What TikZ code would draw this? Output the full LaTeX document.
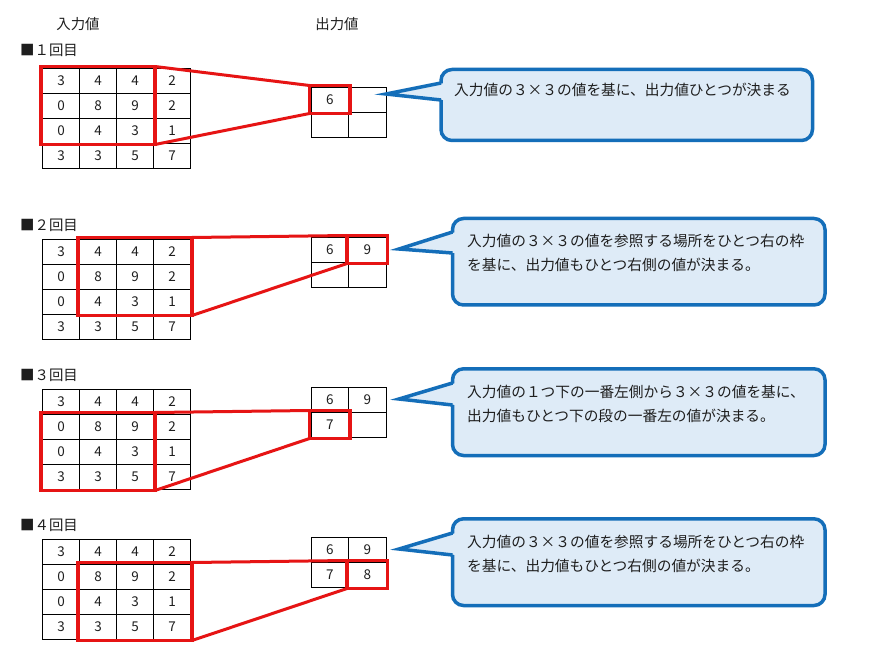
\documentclass[tikz,border=0pt]{standalone}
\usepackage{fontspec}
\setmainfont{Noto Sans CJK JP}
\usetikzlibrary{fit}
\definecolor{cbline}{RGB}{20,110,185}
\definecolor{cbfill}{RGB}{222,235,247}
\definecolor{hired}{RGB}{230,20,20}
\definecolor{ink}{RGB}{30,30,30}
\newcommand\ingrid[2]{%
  \foreach \vals [count=\r] in {{3,4,4,2},{0,8,9,2},{0,4,3,1},{3,3,5,7}}{%
    \foreach \v [count=\c] in \vals {%
      \node[cell] (#1-\r-\c) at ({61+37*(\c-1)},{#2+12.5+25*(\r-1)}) {\v};
    }%
  }%
}
\newcommand\outgrid[6]{%
  \node[ocell] (#1-1-1) at (329.75,{#2+12.5}) {#3};
  \node[ocell] (#1-1-2) at (367.25,{#2+12.5}) {#4};
  \node[ocell] (#1-2-1) at (329.75,{#2+37.5}) {#5};
  \node[ocell] (#1-2-2) at (367.25,{#2+37.5}) {#6};
}
\begin{document}
\begin{tikzpicture}[x=1pt,y=-1pt,
  cell/.style={draw=black,line width=0.9pt,minimum width=37pt,minimum height=25pt,
    inner sep=0pt,outer sep=0pt,text=ink,font=\fontsize{13.5pt}{16pt}\selectfont},
  ocell/.style={cell,minimum width=37.5pt},
  hibox/.style={draw=hired,line width=3.5pt,inner sep=1.5pt,outer sep=0pt},
  hiline/.style={draw=hired,line width=3pt},
  hdrtext/.style={inner sep=0pt,text=ink,font=\fontsize{14.4pt}{17pt}\selectfont},
  sectext/.style={hdrtext,anchor=west},
  cbody/.style={draw=cbline,fill=cbfill,line width=3.5pt,rounded corners=11pt,inner sep=0pt,outer sep=0pt},
  cbptr/.style={draw=cbline,line width=3.5pt},
  cbtext/.style={inner sep=0pt,anchor=west,text=ink,font=\fontsize{14.7pt}{18pt}\selectfont}
]
\useasboundingbox (0,0) rectangle (879,663);
\fill[white] (0,0) rectangle (879,663);

% headers
\node[hdrtext] (hin) at (78,24) {入力値};
\node[hdrtext] (hout) at (337,24) {出力値};

% section labels
\node[sectext] (s1) at (20,50) {■１回目};
\node[sectext] (s2) at (20,225) {■２回目};
\node[sectext] (s3) at (20,375) {■３回目};
\node[sectext] (s4) at (20,525) {■４回目};

% grids
\ingrid{i1}{68}
\ingrid{i2}{239}
\ingrid{i3}{389}
\ingrid{i4}{539}
\outgrid{o1}{87}{6}{}{}{}
\outgrid{o2}{237}{6}{9}{}{}
\outgrid{o3}{387}{6}{9}{7}{}
\outgrid{o4}{537}{6}{9}{7}{8}

% highlight boxes
\node[hibox,fit=(i1-1-1)(i1-3-3)] (r1) {};
\node[hibox,fit=(o1-1-1)] (q1) {};
\node[hibox,fit=(i2-1-2)(i2-3-4)] (r2) {};
\node[hibox,fit=(o2-1-2)] (q2) {};
\node[hibox,fit=(i3-2-1)(i3-4-3)] (r3) {};
\node[hibox,fit=(o3-2-1)] (q3) {};
\node[hibox,fit=(i4-2-2)(i4-4-4)] (r4) {};
\node[hibox,fit=(o4-2-2)] (q4) {};
\foreach \k in {1,2,3,4}{
  \draw[hiline] (r\k.north east) -- (q\k.north west);
  \draw[hiline] (r\k.south east) -- (q\k.south west);
}

% callouts
\node[cbody,minimum width=371.5pt,minimum height=71pt] (cb1) at (626.75,105) {};
\node[cbody,minimum width=372.5pt,minimum height=86.5pt] (cb2) at (638.75,261.75) {};
\node[cbody,minimum width=372.5pt,minimum height=86.7pt] (cb3) at (638.75,412.15) {};
\node[cbody,minimum width=372.5pt,minimum height=86.7pt] (cb4) at (638.75,562.15) {};

\coordinate (tp1) at (386,94);  \coordinate (ba1) at (441,83);    \coordinate (bb1) at (441,100);
\coordinate (tp2) at (399,249); \coordinate (ba2) at (452.5,232); \coordinate (bb2) at (452.5,253);
\coordinate (tp3) at (399,399); \coordinate (ba3) at (452.5,383); \coordinate (bb3) at (452.5,405);
\coordinate (tp4) at (399,549); \coordinate (ba4) at (452.5,533); \coordinate (bb4) at (452.5,555);
\foreach \k in {1,2,3,4}{
  \fill[cbfill] ([xshift=3.5pt]ba\k) -- (tp\k) -- ([xshift=3.5pt]bb\k) -- cycle;
  \draw[cbptr] (ba\k) -- (tp\k) -- (bb\k);
}

\node[cbtext] (t1) at (454,90) {入力値の３×３の値を基に、出力値ひとつが決まる};
\node[cbtext] (t2a) at (467,241) {入力値の３×３の値を参照する場所をひとつ右の枠};
\node[cbtext] (t2b) at (467,265) {を基に、出力値もひとつ右側の値が決まる。};
\node[cbtext] (t3a) at (467,392) {入力値の１つ下の一番左側から３×３の値を基に、};
\node[cbtext] (t3b) at (467,416) {出力値もひとつ下の段の一番左の値が決まる。};
\node[cbtext] (t4a) at (467,542) {入力値の３×３の値を参照する場所をひとつ右の枠};
\node[cbtext] (t4b) at (467,566) {を基に、出力値もひとつ右側の値が決まる。};
\end{tikzpicture}
\end{document}
